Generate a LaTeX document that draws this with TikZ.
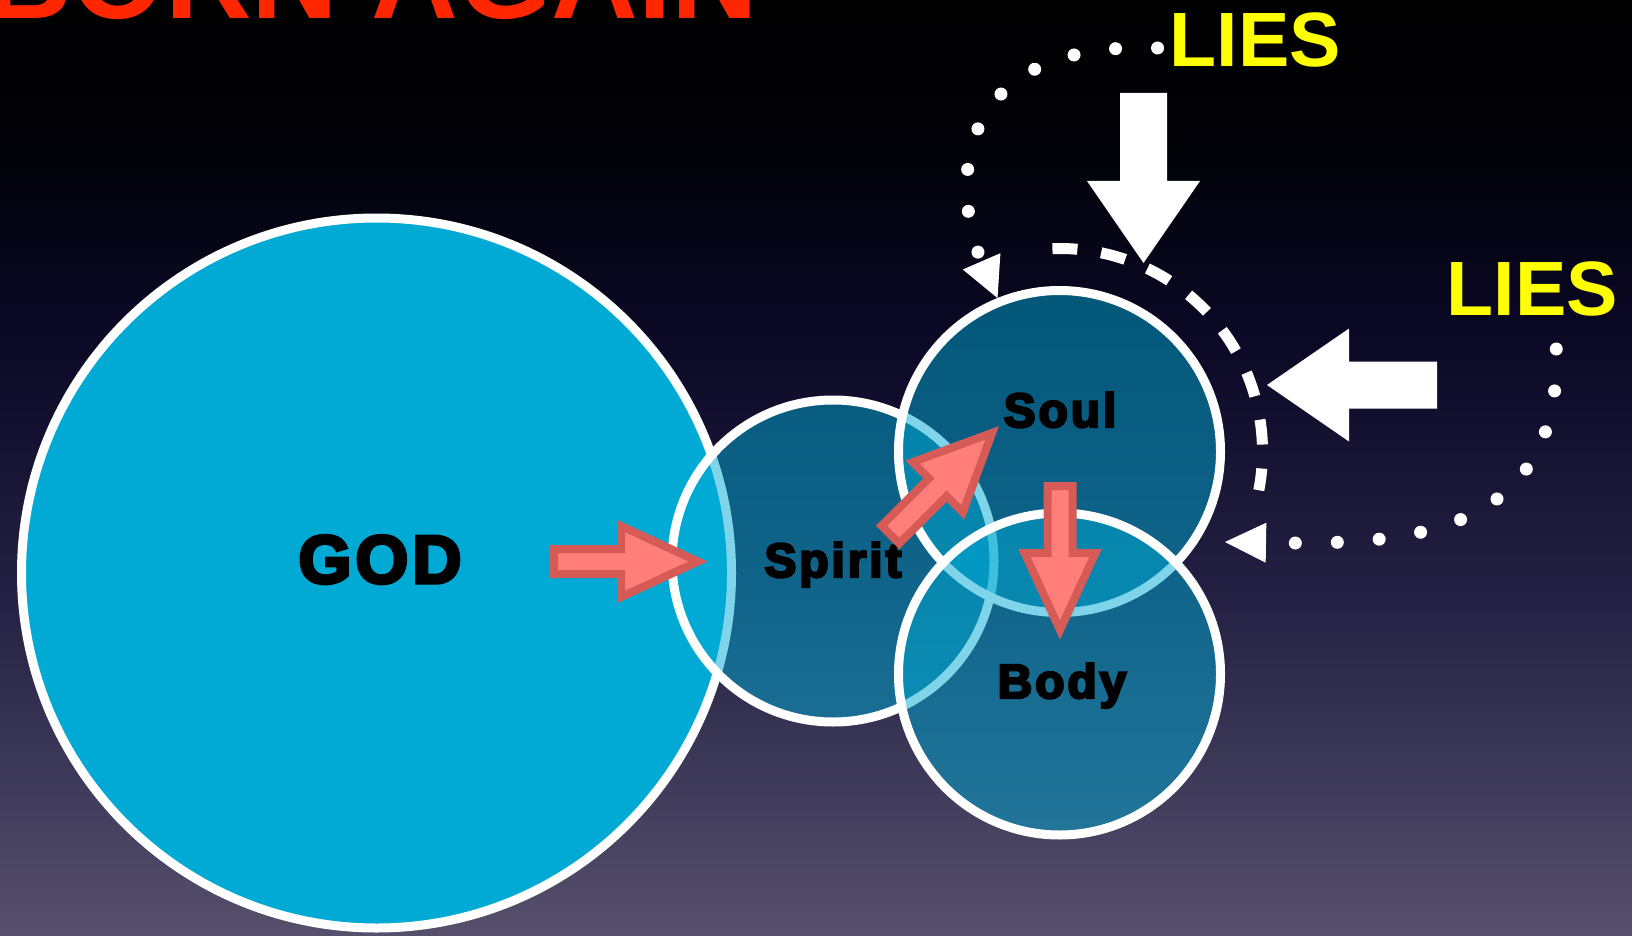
\documentclass[tikz,border=0pt]{standalone}
\usepackage{fontspec}
\setmainfont{Liberation Sans}
\newfontfamily\lblfont[LetterSpace=6,FakeBold=5]{Liberation Sans}
\usetikzlibrary{arrows.meta,calc}
\definecolor{godcyan}{RGB}{0,170,212}
\definecolor{titlered}{RGB}{255,38,0}
\definecolor{liesyellow}{RGB}{255,255,0}
\definecolor{arrowfill}{RGB}{255,126,121}
\definecolor{arrowline}{RGB}{214,90,85}
\definecolor{bgA}{RGB}{0,0,0}
\definecolor{bgB}{RGB}{2,2,9}
\definecolor{bgC}{RGB}{10,8,36}
\definecolor{bgD}{RGB}{36,33,68}
\definecolor{bgE}{RGB}{86,80,108}
\tikzset{
  sphere/.style={circle, inner sep=0pt, minimum size=322pt, draw=white, line width=9pt,
    fill=godcyan, fill opacity=0.5, draw opacity=1},
  lbl/.style={anchor=base, inner sep=0pt, text=black},
  lies/.style={anchor=base west, inner sep=0pt, text=liesyellow,
    font=\fontsize{77}{77}\selectfont\bfseries},
  dotline/.style={white, line width=13pt, line cap=round, dash pattern=on 0pt off 42pt},
  redarrow/.pic={\draw[line width=8pt, draw=arrowline, fill=arrowfill, line join=miter]
    (4,-12.5) -- (71,-12.5) -- (71,-35.5) -- (148,0) -- (71,35.5) -- (71,12.5) -- (4,12.5) -- cycle;},
  whitearrow/.pic={\fill[white]
    (0,-23.5) -- (88,-23.5) -- (88,-56.5) -- (170,0) -- (88,56.5) -- (88,23.5) -- (0,23.5) -- cycle;}
}
\begin{document}
\begin{tikzpicture}[x=1pt,y=-1pt]
\path[use as bounding box] (0,0) rectangle (1632,936);
\clip (0,0) rectangle (1632,936);
% background
\shade[top color=bgA, bottom color=bgB] (0,0) rectangle (1632,151);
\shade[top color=bgB, bottom color=bgC] (0,150) rectangle (1632,331);
\shade[top color=bgC, bottom color=bgD] (0,330) rectangle (1632,601);
\shade[top color=bgD, bottom color=bgE] (0,600) rectangle (1632,936);
% title
\node[anchor=base west, inner sep=0pt, text=titlered,
  font=\fontsize{120}{120}\selectfont\bfseries] (title) at (-15,19) {BORN AGAIN};
% circles
\node[sphere, minimum size=710pt, fill opacity=1] (god) at (376.5,573) {};
\node[sphere] (spirit) at (833,561) {};
\node[sphere] (soul) at (1059.5,451.5) {};
\node[sphere] (body) at (1059.5,674) {};
% labels
\node[lbl, font=\lblfont\fontsize{68}{68}\selectfont\bfseries] (godlbl) at (380,583) {GOD};
\node[lbl, font=\lblfont\fontsize{48}{48}\selectfont\bfseries] (spiritlbl) at (833,577) {Spirit};
\node[lbl, font=\lblfont\fontsize{48}{48}\selectfont\bfseries] (soullbl) at (1060,427) {Soul};
\node[lbl, font=\lblfont\fontsize{48}{48}\selectfont\bfseries] (bodylbl) at (1062,698) {Body};
% red arrows
\pic at (550,561.5) {redarrow};
\pic[rotate=45] at (887.5,537.5) {redarrow};
\pic[rotate=-90] at (1060,482) {redarrow};
% dashed ring around soul
\draw[white, line width=11pt, dash pattern=on 25pt off 24pt]
  (soul.center) ++(92:203pt) arc[start angle=92, end angle=-11, radius=203pt];
% white block arrows
\pic[rotate=-90] at (1143.5,93) {whitearrow};
\pic[rotate=180] at (1437,385) {whitearrow};
% LIES
\node[lies] (lies1) at (1169.5,67) {LIES};
\node[lies] (lies2) at (1446.5,315) {LIES};
\coordinate (liesin) at (1225,542);
% dotted connectors
\draw[dotline, -{Triangle[length=40pt,width=41pt,line width=0pt]}]
  ($(lies1.base west)+(-12,-19)$) .. controls (940,40) and (955,200) .. (soul.112);
\draw[dotline, -{Triangle[length=41pt,width=40pt,line width=0pt]}]
  ($(lies2.base)+(24,34)$) .. controls (1562,540) and (1400,545) .. (liesin);
\end{tikzpicture}
\end{document}
